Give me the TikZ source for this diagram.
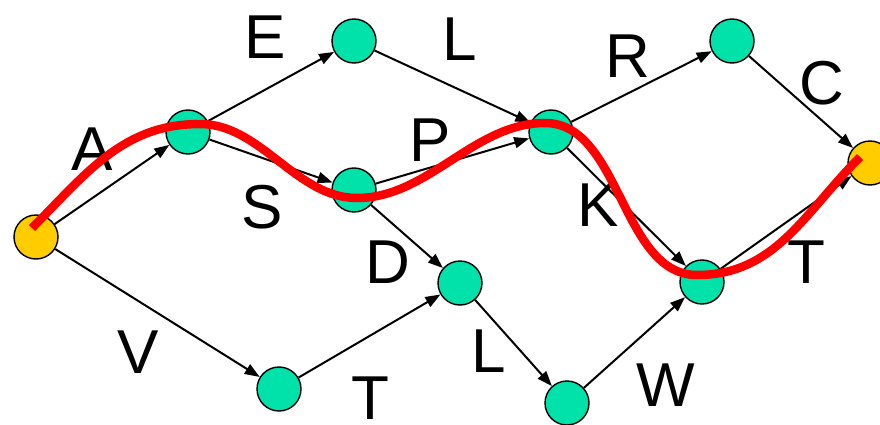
\documentclass[tikz,border=0pt]{standalone}
\usepackage{fontspec}
\setmainfont{Liberation Sans}
\usetikzlibrary{arrows.meta}
\begin{document}
\begin{tikzpicture}[x=1pt,y=1pt,
  state/.style={circle,draw=black,line width=1.4pt,fill=stategreen,minimum size=44pt,inner sep=0pt},
  terminal/.style={state,fill=termyellow},
  edge/.style={line width=2pt,-{Triangle[length=15pt,width=11pt]}},
  lbl/.style={inner sep=0pt,font=\fontsize{62}{62}\selectfont},
  route/.style={red,line width=8.5pt}]
\definecolor{stategreen}{RGB}{0,226,170}
\definecolor{termyellow}{RGB}{255,204,0}
\useasboundingbox (0,0) rectangle (880,424);

% states
\node[terminal] (s)  at (36,187)  {};
\node[state]    (a)  at (188,292) {};
\node[state]    (e)  at (354,383) {};
\node[state]    (m)  at (354,234) {};
\node[state]    (p)  at (551,292) {};
\node[state]    (r)  at (732,383) {};
\node[terminal] (t)  at (870,261) {};
\node[state]    (w)  at (702,142) {};
\node[state]    (d)  at (460,141) {};
\node[state]    (v)  at (279,35)  {};
\node[state]    (l)  at (567,21)  {};

% transitions
\draw[edge] (s) -- (a);
\draw[edge] (s) -- (v);
\draw[edge] (a) -- (e);
\draw[edge] (a) -- (m);
\draw[edge] (e) -- (p);
\draw[edge] (m) -- (p);
\draw[edge] (m) -- (d);
\draw[edge] (v) -- (d);
\draw[edge] (d) -- (l);
\draw[edge] (l) -- (w);
\draw[edge] (p) -- (r);
\draw[edge] (p) -- (w);
\draw[edge] (r) -- (t);
\draw[edge] (w) -- (t);

% transition labels
\node[lbl] (lA)  at (92,275)  {A};
\node[lbl] (lE)  at (265,387) {E};
\node[lbl] (lL1) at (460,385) {L};
\node[lbl] (lR)  at (628,368) {R};
\node[lbl] (lC)  at (822,341) {C};
\node[lbl] (lP)  at (430,284) {P};
\node[lbl] (lS)  at (262,217) {S};
\node[lbl] (lK)  at (598,219) {K};
\node[lbl] (lD)  at (388,162) {D};
\node[lbl] (lT1) at (806,162) {T};
\node[lbl] (lV)  at (138,72)  {V};
\node[lbl] (lL2) at (489,73)  {L};
\node[lbl] (lT2) at (370,26)  {T};
\node[lbl] (lW)  at (666,39)  {W};

% highlighted path
\coordinate (r0) at (32,196);
\coordinate (r1) at (200,300);
\coordinate (r2) at (357,226);
\coordinate (r3) at (545,301);
\coordinate (r4) at (697,149);
\coordinate (r5) at (860,267);
\draw[route] (r0) to[out=45,in=180] (r1)
  to[out=0,in=180,looseness=0.9] (r2)
  to[out=0,in=180,looseness=0.9] (r3)
  to[out=0,in=180,looseness=0.9] (r4)
  to[out=0,in=225] (r5);
\end{tikzpicture}
\end{document}
